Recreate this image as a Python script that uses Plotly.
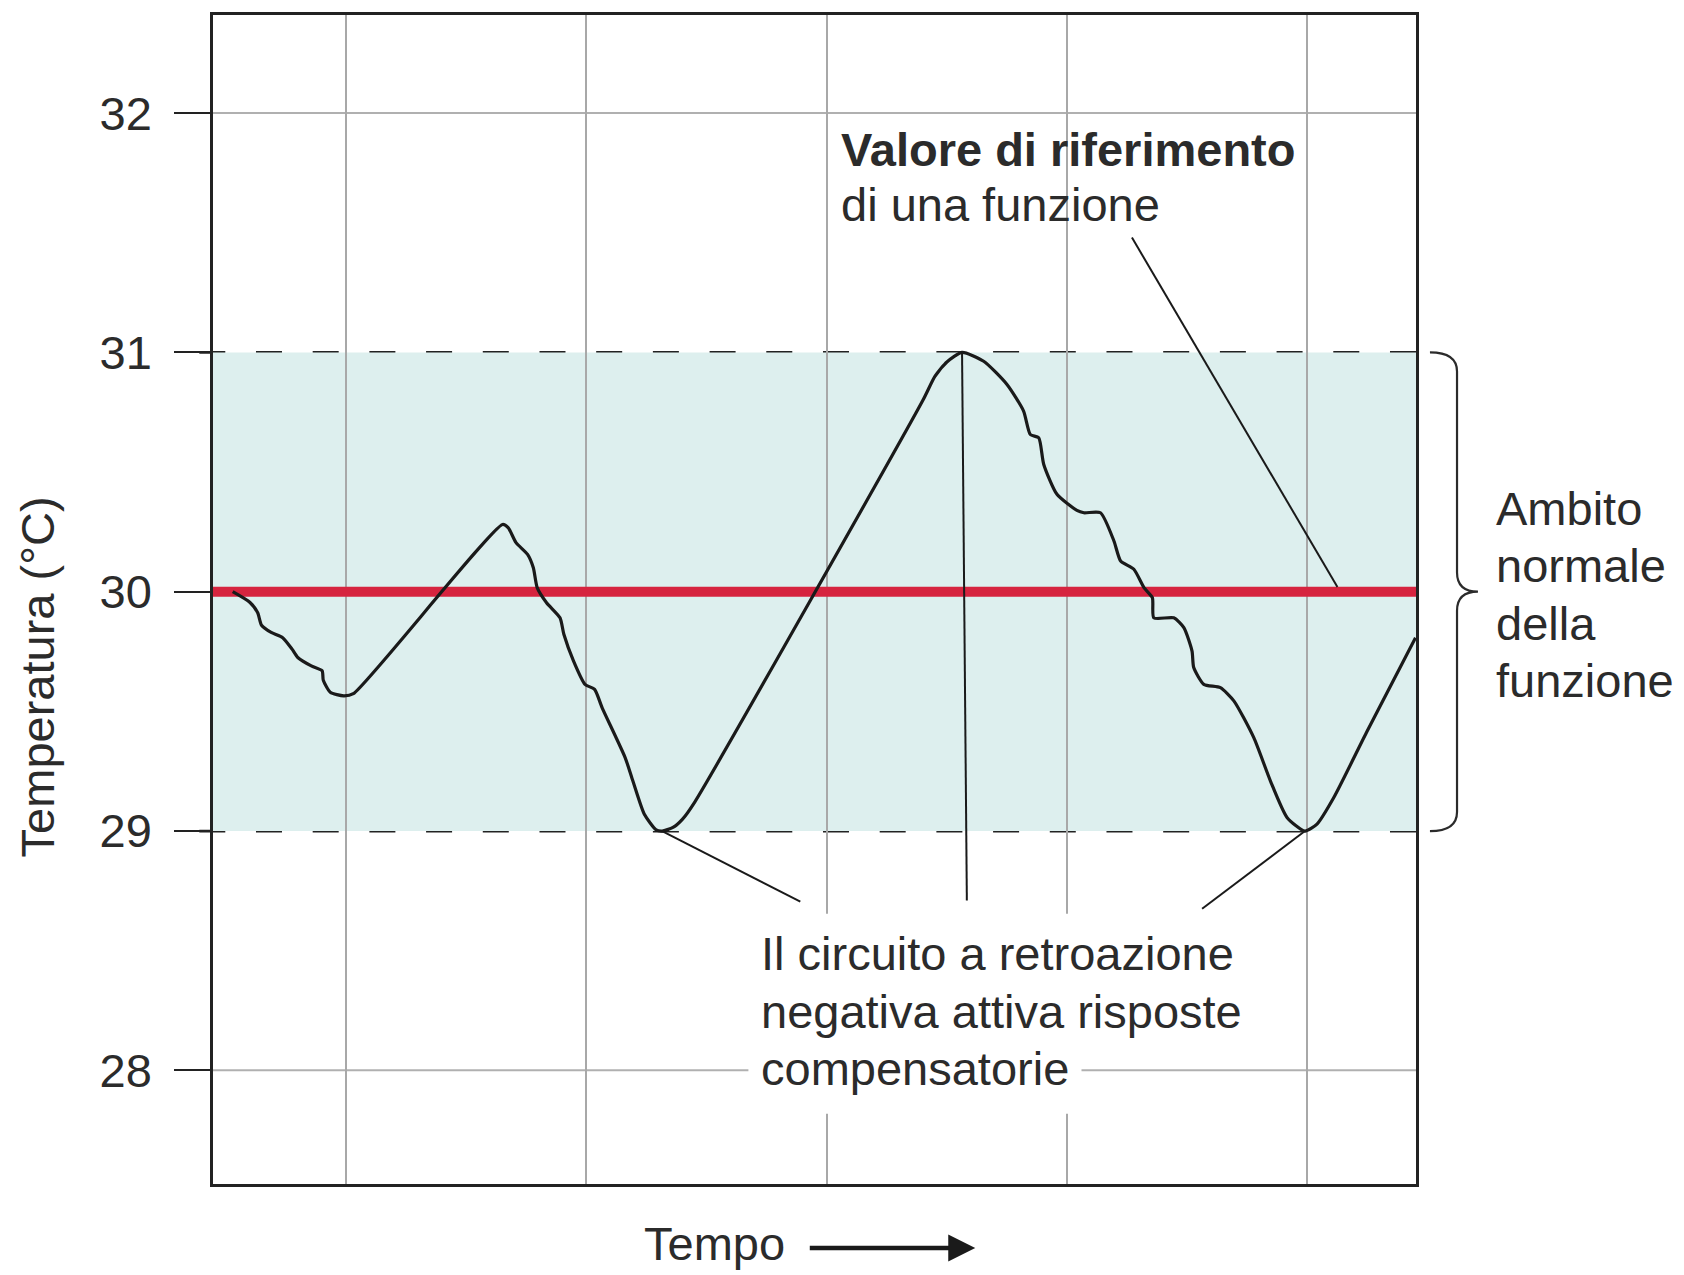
import plotly.graph_objects as go

# Body temperature over time (arbitrary time units, °C)
time = [0.528, 0.600, 0.632, 0.648, 0.688, 0.736, 0.775, 0.800, 0.855, 0.900,
        0.905, 0.934, 0.990, 1.030, 1.651, 1.675, 1.707, 1.755, 1.779, 1.795,
        1.834, 1.890, 1.906, 1.946, 1.994, 2.034, 2.065, 2.161, 2.193, 2.241,
        2.290, 2.315, 2.360, 2.400, 2.450, 3.400, 3.450, 3.500, 3.563, 3.653,
        3.750, 3.819, 3.847, 3.882, 3.903, 3.958, 4.041, 4.070, 4.139, 4.195,
        4.223, 4.278, 4.320, 4.355, 4.361, 4.444, 4.486, 4.520, 4.527, 4.569,
        4.638, 4.694, 4.777, 4.846, 4.916, 4.990, 5.040, 5.110, 5.249, 5.450]
temp = [30.000, 29.955, 29.912, 29.860, 29.830, 29.808, 29.760, 29.724, 29.690, 29.670,
        29.630, 29.580, 29.565, 29.574, 30.281, 30.267, 30.205, 30.156, 30.100, 30.017,
        29.954, 29.891, 29.822, 29.711, 29.613, 29.592, 29.516, 29.307, 29.210, 29.070,
        29.005, 29.000, 29.015, 29.050, 29.120, 30.800, 30.900, 30.960, 31.000, 30.963,
        30.866, 30.755, 30.657, 30.643, 30.532, 30.407, 30.340, 30.330, 30.330, 30.212,
        30.128, 30.094, 30.017, 29.975, 29.891, 29.891, 29.850, 29.752, 29.683, 29.613,
        29.599, 29.544, 29.390, 29.210, 29.056, 29.000, 29.029, 29.140, 29.418, 29.808]

set_point = 30.0
normal_low, normal_high = 29.0, 31.0
y_ticks = [28, 29, 30, 31, 32]
y_grid = [28, 32]
time_grid = [1, 2, 3, 4, 5]
x_range = [0.446, 5.452]
y_range = [27.525, 32.41]

# Leader lines from the curve to the labels
lead_min1_x, lead_min1_y = [2.315, 2.890], [29.0, 28.705]
lead_peak_x, lead_peak_y = [3.563, 3.583], [31.0, 28.710]
lead_min2_x, lead_min2_y = [4.990, 4.562], [29.0, 28.675]
lead_set_x, lead_set_y = [4.270, 5.125], [31.48, 30.02]

FONT = "Liberation Sans, Arial, Helvetica, sans-serif"
TXT = "#2b2b2b"
FS = 47

fig = go.Figure()

# set point
fig.add_trace(go.Scatter(x=x_range, y=[set_point, set_point], mode="lines",
                         line=dict(color="#d6243f", width=10), hoverinfo="skip"))
# temperature curve
fig.add_trace(go.Scatter(x=time, y=temp, mode="lines",
                         line=dict(color="#1a1a1a", width=3.2, shape="spline", smoothing=0.6),
                         hoverinfo="skip"))
for lx, ly in [(lead_min1_x, lead_min1_y), (lead_peak_x, lead_peak_y),
               (lead_min2_x, lead_min2_y), (lead_set_x, lead_set_y)]:
    fig.add_trace(go.Scatter(x=lx, y=ly, mode="lines",
                             line=dict(color="#1a1a1a", width=2), hoverinfo="skip"))

shapes = []
# normal range band
shapes.append(dict(type="rect", xref="x", yref="y", x0=x_range[0], x1=x_range[1],
                   y0=normal_low, y1=normal_high, fillcolor="#ddefee",
                   line=dict(width=0), layer="below"))
# horizontal grid at 28 and 32
for gy in y_grid:
    shapes.append(dict(type="line", xref="paper", yref="y", x0=0, x1=1, y0=gy, y1=gy,
                       line=dict(color="#b0b0b0", width=2), layer="between"))
# limits of the normal range
for ly in (normal_low, normal_high):
    shapes.append(dict(type="line", xref="paper", yref="y", x0=-0.0114, x1=1, y0=ly, y1=ly,
                       line=dict(color="#222222", width=2.8, dash="26px,30.7px"),
                       layer="between"))
# white backing behind the feedback label
shapes.append(dict(type="rect", xref="x", yref="y", x0=2.674, x1=4.06, y0=27.819, y1=28.654,
                   fillcolor="white", line=dict(width=0), layer="between"))
# brace marking the normal range
bx0, bx1, bx2 = 1.0116, 1.0341, 1.0515
brace = (f"M {bx0},{normal_high} Q {bx1},{normal_high} {bx1},{normal_high-0.08} "
         f"L {bx1},{set_point+0.08} Q {bx1},{set_point} {bx2},{set_point} "
         f"Q {bx1},{set_point} {bx1},{set_point-0.08} "
         f"L {bx1},{normal_low+0.08} Q {bx1},{normal_low} {bx0},{normal_low}")
shapes.append(dict(type="path", xref="paper", yref="y", path=brace,
                   line=dict(color="#2b2b2b", width=2.2), layer="above"))


def label(text, x, y, xref="x", yref="y", **kw):
    d = dict(text=text, x=x, y=y, xref=xref, yref=yref, xanchor="left",
             yanchor="middle", showarrow=False, borderpad=0,
             font=dict(size=FS, color=TXT, family=FONT))
    d.update(kw)
    return d


annotations = [
    label("<b>Valore di riferimento</b>", 3.054, 31.85),
    label("di una funzione", 3.054, 31.62),
    label("Il circuito a retroazione", 2.722, 28.487),
    label("negativa attiva risposte", 2.722, 28.247),
    label("compensatorie", 2.722, 28.007),
    label("Ambito", 1.066, 30.348, xref="paper"),
    label("normale", 1.066, 30.108, xref="paper"),
    label("della", 1.066, 29.868, xref="paper"),
    label("funzione", 1.066, 29.628, xref="paper"),
    label("Temperatura (°C)", -0.1463, 29.642, xref="paper", textangle=-90,
          xanchor="center"),
    label("Tempo", 2.235, -0.051, yref="paper"),
    dict(text="", x=3.618, y=-0.0547, xref="x", yref="paper",
         ax=-167, ay=0, axref="pixel", ayref="pixel", showarrow=True, arrowhead=2,
         arrowsize=1.2, arrowwidth=4.5, arrowcolor="#1a1a1a", standoff=0,
         startstandoff=0),
]

fig.update_layout(
    width=1684, height=1275,
    margin=dict(l=213, r=268, t=13, b=91),
    paper_bgcolor="white", plot_bgcolor="white",
    showlegend=False,
    shapes=shapes, annotations=annotations,
    font=dict(family=FONT, color=TXT, size=FS),
)
fig.update_xaxes(range=x_range, tickvals=time_grid, showticklabels=False, ticks="",
                 showgrid=True, gridcolor="#a8a8a8", gridwidth=2, zeroline=False,
                 showline=True, mirror=True, linecolor="#222222", linewidth=2.5)
fig.update_yaxes(range=y_range, tickvals=y_ticks, ticktext=[str(v) for v in y_ticks],
                 ticks="outside", ticklen=36, tickwidth=2, tickcolor="#222222",
                 ticklabelstandoff=13, tickfont=dict(size=FS, color=TXT, family=FONT),
                 showgrid=False, zeroline=False,
                 showline=True, mirror=True, linecolor="#222222", linewidth=2.5)

fig.write_html("out.html")
